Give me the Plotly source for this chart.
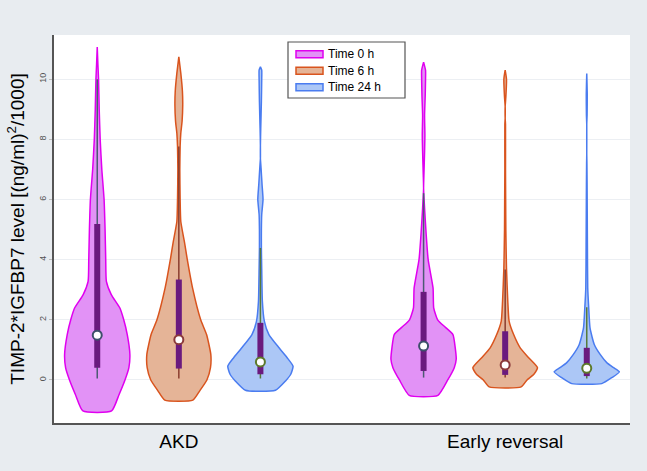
import plotly.graph_objects as go

# ---------------- data ----------------
categories = ["AKD", "Early reversal"]
times = ["Time 0 h", "Time 6 h", "Time 24 h"]

# violin outlines: y levels and relative density (max = 1)
akd_0h_y = [11.07, 10.5, 10.0, 9.0, 8.0, 7.0, 6.0, 5.0, 4.0, 3.28, 2.84, 2.40, 2.01, 1.51, 0.85, 0.41, 0.0, -0.48, -1.03]
akd_0h_d = [0.0, 0.02, 0.04, 0.06, 0.09, 0.14, 0.21, 0.24, 0.26, 0.28, 0.43, 0.69, 0.81, 0.92, 1.0, 0.97, 0.85, 0.67, 0.44]

akd_6h_y = [10.74, 10.2, 9.6, 9.14, 8.6, 8.2, 7.76, 7.0, 6.0, 5.27, 4.6, 4.0, 3.06, 2.0, 1.51, 0.85, 0.41, 0.0, -0.36, -0.67]
akd_6h_d = [0.0, 0.06, 0.11, 0.12, 0.10, 0.06, 0.04, 0.03, 0.04, 0.06, 0.17, 0.26, 0.42, 0.67, 0.85, 0.98, 0.97, 0.86, 0.64, 0.43]

akd_24h_y = [10.41, 10.3, 10.0, 9.25, 8.36, 7.8, 7.37, 7.04, 6.5, 6.0, 5.5, 5.0, 4.39, 3.7, 2.62, 1.96, 1.51, 1.07, 0.74, 0.46, 0.19, -0.03, -0.34]
akd_24h_d = [0.0, 0.04, 0.04, 0.03, 0.01, 0.0, 0.0, 0.02, 0.05, 0.08, 0.04, 0.03, 0.03, 0.04, 0.06, 0.12, 0.26, 0.57, 0.82, 1.0, 0.93, 0.77, 0.46]

er_0h_y = [10.57, 10.3, 10.0, 9.47, 8.8, 8.14, 7.59, 6.82, 6.37, 5.71, 4.83, 4.0, 3.06, 2.40, 2.0, 1.75, 1.51, 1.07, 0.69, 0.41, 0.0, -0.51]
er_0h_d = [0.0, 0.06, 0.06, 0.05, 0.03, 0.04, 0.03, 0.01, 0.0, 0.03, 0.08, 0.14, 0.29, 0.31, 0.43, 0.67, 0.90, 0.97, 1.0, 0.94, 0.74, 0.44]

er_6h_y = [10.30, 10.0, 9.4, 9.1, 8.7, 8.5, 7.0, 6.0, 5.0, 3.72, 2.62, 1.96, 1.51, 1.07, 0.74, 0.41, 0.19, 0.0, -0.23]
er_6h_d = [0.0, 0.04, 0.02, 0.0, 0.0, 0.01, 0.01, 0.015, 0.02, 0.04, 0.08, 0.12, 0.26, 0.46, 0.72, 0.99, 0.88, 0.67, 0.49]

er_24h_y = [10.19, 9.5, 8.8, 8.5, 7.5, 7.2, 6.5, 5.5, 4.5, 3.06, 2.40, 1.73, 1.18, 0.85, 0.57, 0.41, 0.27, 0.08, -0.12]
er_24h_d = [0.0, 0.015, 0.01, 0.0, 0.0, 0.005, 0.01, 0.015, 0.02, 0.03, 0.06, 0.10, 0.23, 0.41, 0.62, 0.82, 1.0, 0.77, 0.46]

# box statistics: lower whisker, q1, median, q3, upper whisker
akd_stats = [
    [0.05, 0.41, 1.49, 5.19, 10.0],
    [0.05, 0.38, 1.34, 3.34, 7.76],
    [0.05, 0.19, 0.60, 1.90, 4.39],
]
er_stats = [
    [0.08, 0.30, 1.13, 2.93, 6.21],
    [0.08, 0.17, 0.50, 1.62, 3.67],
    [0.05, 0.13, 0.39, 1.07, 2.42],
]

# ---------------- styling ----------------
fills = ["rgba(224,140,245,0.95)", "rgba(228,176,145,0.95)", "rgba(168,196,246,0.95)"]
lines = ["#e000f0", "#d9541e", "#4a7cf0"]
whisk = ["#4b5a72", "#8a3d2e", "#557a3a"]
med_edge = ["#3d4f6b", "#8b3a3a", "#5d7a2a"]
box_col = "#6a1a7e"
max_half = 0.40
group_pos = [[1, 2, 3], [5, 6, 7]]

profiles = [
    [(akd_0h_y, akd_0h_d), (akd_6h_y, akd_6h_d), (akd_24h_y, akd_24h_d)],
    [(er_0h_y, er_0h_d), (er_6h_y, er_6h_d), (er_24h_y, er_24h_d)],
]
stats = [akd_stats, er_stats]

W, H = 647, 471
ML, MR, MT, MB = 54, 17, 35, 48
PW, PH = W - ML - MR, H - MT - MB


def px2paper(px, py):
    return (px - ML) / PW, (H - MB - py) / PH


fig = go.Figure()

for g in range(2):
    for t in range(3):
        c = group_pos[g][t]
        ys, ds = profiles[g][t]
        xr = [c + d * max_half for d in ds]
        xl = [c - d * max_half for d in ds]
        px = xr + xl[::-1] + [xr[0]]
        py = ys + ys[::-1] + [ys[0]]
        fig.add_trace(go.Scatter(
            x=px, y=py, mode="lines", fill="toself",
            fillcolor=fills[t], line=dict(color=lines[t], width=1.5, shape="spline", smoothing=0.5),
            name=times[t], showlegend=False, hoverinfo="skip",
        ))

for g in range(2):
    for t in range(3):
        c = group_pos[g][t]
        lo, q1, med, q3, hi = stats[g][t]
        fig.add_trace(go.Scatter(x=[c, c], y=[lo, hi], mode="lines",
                                 line=dict(color=whisk[t], width=1.5), showlegend=False, hoverinfo="skip"))
        fig.add_trace(go.Scatter(x=[c, c], y=[q1, q3], mode="lines",
                                 line=dict(color=box_col, width=6), showlegend=False, hoverinfo="skip"))
        fig.add_trace(go.Scatter(x=[c], y=[med], mode="markers",
                                 marker=dict(color="white", size=9, line=dict(color=med_edge[t], width=2)),
                                 showlegend=False, hoverinfo="skip"))

# ---- legend drawn as shapes + text ----
shapes = []
annotations = []
bx0, by0 = px2paper(288, 98)
bx1, by1 = px2paper(405, 42)
shapes.append(dict(type="rect", xref="paper", yref="paper", x0=bx0, x1=bx1, y0=by0, y1=by1,
                   line=dict(color="#555", width=1.2), fillcolor="white", layer="above"))
row_y = [54.3, 70.8, 87.3]
for t in range(3):
    sx0, sy0 = px2paper(296, row_y[t] + 3.5)
    sx1, sy1 = px2paper(323, row_y[t] - 3.5)
    shapes.append(dict(type="rect", xref="paper", yref="paper", x0=sx0, x1=sx1, y0=sy0, y1=sy1,
                       line=dict(color=lines[t], width=1.5), fillcolor=fills[t], layer="above"))
    tx, ty = px2paper(325.5, row_y[t])
    annotations.append(dict(xref="paper", yref="paper", x=tx, y=ty, xanchor="left", yanchor="middle",
                            text=times[t], showarrow=False, font=dict(size=12, color="black")))

fig.update_layout(
    width=W, height=H,
    margin=dict(l=ML, r=MR, t=MT, b=MB),
    paper_bgcolor="#e8ecf0",
    plot_bgcolor="white",
    font=dict(family="Liberation Sans, Arial, sans-serif", color="black"),
    showlegend=False,
    shapes=shapes,
    annotations=annotations,
    xaxis=dict(range=[0.47, 7.53], tickvals=[2, 6], ticktext=categories,
               showgrid=False, zeroline=False, showline=True, linecolor="#555", linewidth=1.5,
               ticks="", tickfont=dict(size=19, color="black")),
    yaxis=dict(range=[-1.43, 11.47], tickvals=[0, 2, 4, 6, 8, 10], tickangle=-90,
               showgrid=True, gridcolor="#eceff3", gridwidth=1, zeroline=False,
               showline=True, linecolor="#555", linewidth=1.5,
               ticks="outside", ticklen=3, tickcolor="#bbb",
               tickfont=dict(size=9, color="#555"),
               title=dict(text="TIMP-2*IGFBP7 level [(ng/ml)<sup>2</sup>/1000]",
                          font=dict(size=19, color="black"), standoff=8)),
)

fig.write_html("out.html", config={"displayModeBar": False},
               post_script="document.body.style.margin='0';document.body.style.background='#e8ecf0';")
